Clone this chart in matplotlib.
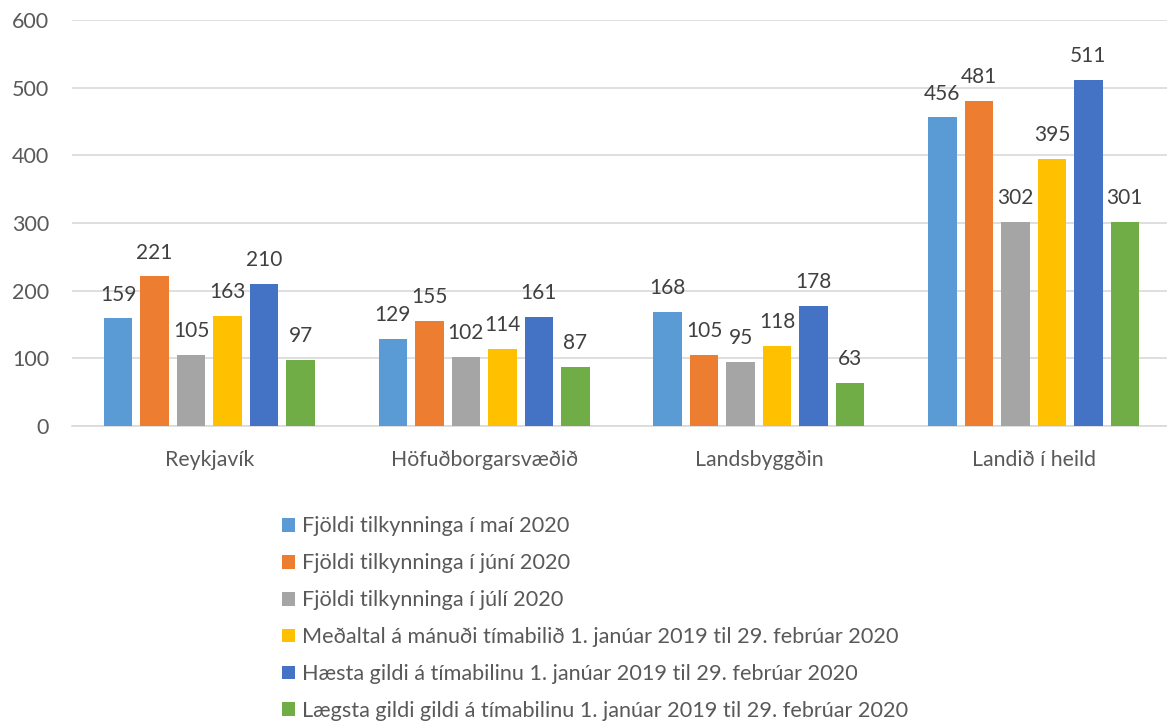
import numpy as np
import matplotlib.pyplot as plt

categories = ['Reykjavík', 'Höfuðborgarsvæðið', 'Landsbyggðin', 'Landið í heild']
series_names = [
    'Fjöldi tilkynninga í maí 2020',
    'Fjöldi tilkynninga í júní 2020',
    'Fjöldi tilkynninga í júlí 2020',
    'Meðaltal á mánuði tímabilið 1. janúar 2019 til 29. febrúar 2020',
    'Hæsta gildi á tímabilinu 1. janúar 2019 til 29. febrúar 2020',
    'Lægsta gildi gildi á tímabilinu 1. janúar 2019 til 29. febrúar 2020',
]
maí = [159, 129, 168, 456]
júní = [221, 155, 105, 481]
júlí = [105, 102, 95, 302]
meðaltal = [163, 114, 118, 395]
hæsta = [210, 161, 178, 511]
lægsta = [97, 87, 63, 301]
values = [maí, júní, júlí, meðaltal, hæsta, lægsta]
colors = ['#5B9BD5', '#ED7D31', '#A5A5A5', '#FFC000', '#4472C4', '#70AD47']

plt.rcParams['font.family'] = ['Lato', 'DejaVu Sans']
txt = '#595959'

fig = plt.figure(figsize=(11.67, 7.24), dpi=100)
ax = fig.add_axes([72 / 1167, 1 - 426 / 724, 1099 / 1167, 406 / 724])

x = np.arange(len(categories))
pitch = 0.1328
width = 0.104
for i, (name, vals, c) in enumerate(zip(series_names, values, colors)):
    pos = x + (i - 2.5) * pitch
    bars = ax.bar(pos, vals, width, color=c, label=name, zorder=3)
    ax.bar_label(bars, padding=10, fontsize=15, color='#404040')

ax.set_xlim(-0.5, 3.5)
ax.set_ylim(0, 600)
ax.set_yticks(range(0, 601, 100))
ax.set_xticks(x)
ax.set_xticklabels(categories)
ax.tick_params(axis='x', length=0, labelsize=15.3, colors=txt, pad=17)
ax.tick_params(axis='y', length=0, labelsize=15.5, colors=txt, pad=16.5)
ax.grid(axis='y', color='#D9D9D9', linewidth=1.2, zorder=0)
for s in ['top', 'right', 'left']:
    ax.spines[s].set_visible(False)
ax.spines['bottom'].set_color('#D9D9D9')
ax.spines['bottom'].set_linewidth(1.2)

fig.legend(loc='upper left', bbox_to_anchor=(262 / 1167, 1 - 497 / 724),
           ncol=1, frameon=False, fontsize=15.6, handlelength=0.6, handleheight=0.6,
           handletextpad=0.35, labelspacing=0.78, labelcolor=txt)

fig.savefig('out.png', dpi=100)
